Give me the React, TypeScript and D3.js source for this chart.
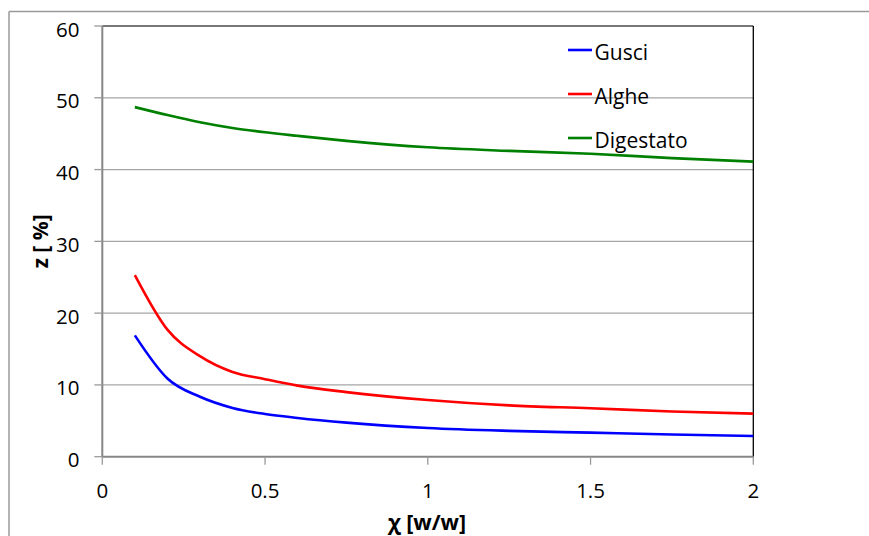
import React from "react";
import * as d3 from "d3";

// Ratio χ [w/w] on the x axis
const chi = [0.1, 0.2, 0.3, 0.4, 0.5, 0.6, 0.75, 1.0, 1.25, 1.5, 1.75, 2.0];
// z [%] per feedstock
const gusci = [16.9, 10.9, 8.35, 6.8, 5.95, 5.4, 4.75, 4.0, 3.6, 3.35, 3.1, 2.88];
const alghe = [25.3, 17.7, 14.0, 11.8, 10.8, 9.9, 9.0, 7.9, 7.15, 6.75, 6.3, 6.0];
const digestato = [48.7, 47.6, 46.6, 45.8, 45.2, 44.7, 44.0, 43.1, 42.6, 42.2, 41.6, 41.1];

const seriesNames = ["Gusci", "Alghe", "Digestato"];
const seriesValues = [gusci, alghe, digestato];
const seriesColors = ["#0000ff", "#ff0000", "#008000"];

const xTicks = [0, 0.5, 1, 1.5, 2];
const xTickLabels = ["0", "0.5", "1", "1.5", "2"];
const yTicks = [0, 10, 20, 30, 40, 50, 60];

const W = 869;
const H = 536;
const plot = { left: 102.3, right: 753.3, top: 26, bottom: 456.7 };
const font = "'Open Sans', 'Noto Sans', sans-serif";

export default function App() {
  const x = d3.scaleLinear().domain([0, 2]).range([plot.left, plot.right]);
  const y = d3.scaleLinear().domain([0, 60]).range([plot.bottom, plot.top]);

  const line = d3
    .line<[number, number]>()
    .x((d) => x(d[0]))
    .y((d) => y(d[1]))
    .curve(d3.curveMonotoneX);

  const legendX0 = 568;
  const legendX1 = 592;
  const legendY = [50, 94, 138];

  return (
    <svg
      width={W}
      height={H}
      style={{ position: "absolute", left: 0, top: 0, background: "#fff" }}
      fontFamily={font}
    >
      {/* chart frame */}
      <line x1={9} y1={11.5} x2={W} y2={11.5} stroke="#9a9a9a" strokeWidth={1.5} />
      <line x1={9} y1={11.5} x2={9} y2={H} stroke="#9a9a9a" strokeWidth={1.5} />

      {/* gridlines */}
      {yTicks.filter((t) => t > 0 && t < 60).map((t) => (
        <line key={t} x1={plot.left} x2={plot.right} y1={y(t)} y2={y(t)} stroke="#a6a6a6" strokeWidth={1.3} />
      ))}

      {/* plot border */}
      <line x1={plot.left} x2={plot.right} y1={plot.top} y2={plot.top} stroke="#4a4a4a" strokeWidth={1.5} />
      <line x1={plot.right} x2={plot.right} y1={plot.top} y2={plot.bottom} stroke="#000" strokeWidth={1.3} />

      {/* y axis */}
      <line x1={plot.left} x2={plot.left} y1={plot.top} y2={plot.bottom} stroke="#868686" strokeWidth={2} />
      {yTicks.map((t) => (
        <g key={t}>
          <line x1={plot.left - 8} x2={plot.left} y1={y(t)} y2={y(t)} stroke="#9a9a9a" strokeWidth={1.3} />
          <text x={79.5} y={y(t) + 10.5} textAnchor="end" fontSize={20.5} fill="#000">
            {t}
          </text>
        </g>
      ))}

      {/* x axis */}
      <line x1={plot.left} x2={plot.right} y1={plot.bottom} y2={plot.bottom} stroke="#868686" strokeWidth={2} />
      {xTicks.map((t, i) => (
        <g key={t}>
          <line x1={x(t)} x2={x(t)} y1={plot.bottom} y2={plot.bottom + 8} stroke="#9a9a9a" strokeWidth={1.3} />
          <text x={x(t)} y={497.5} textAnchor="middle" fontSize={20.5} fill="#000">
            {xTickLabels[i]}
          </text>
        </g>
      ))}

      {/* series */}
      {seriesValues.map((vals, i) => (
        <path
          key={seriesNames[i]}
          d={line(chi.map((c, j) => [c, vals[j]] as [number, number])) || ""}
          fill="none"
          stroke={seriesColors[i]}
          strokeWidth={2.6}
        />
      ))}

      {/* legend */}
      {seriesNames.map((name, i) => (
        <g key={name}>
          <line x1={legendX0} x2={legendX1} y1={legendY[i]} y2={legendY[i]} stroke={seriesColors[i]} strokeWidth={2.6} />
          <text x={594.5} y={legendY[i] + 9.5} fontSize={21} fill="#000">
            {name}
          </text>
        </g>
      ))}

      {/* axis titles */}
      <text x={427} y={530} textAnchor="middle" fontSize={21.5} fontWeight="bold" fill="#000">
        χ [w/w]
      </text>
      <text
        transform={`translate(48, ${(plot.top + plot.bottom) / 2}) rotate(-90)`}
        textAnchor="middle"
        fontSize={21}
        fontWeight="bold"
        fill="#000"
      >
        z [ %]
      </text>
    </svg>
  );
}
